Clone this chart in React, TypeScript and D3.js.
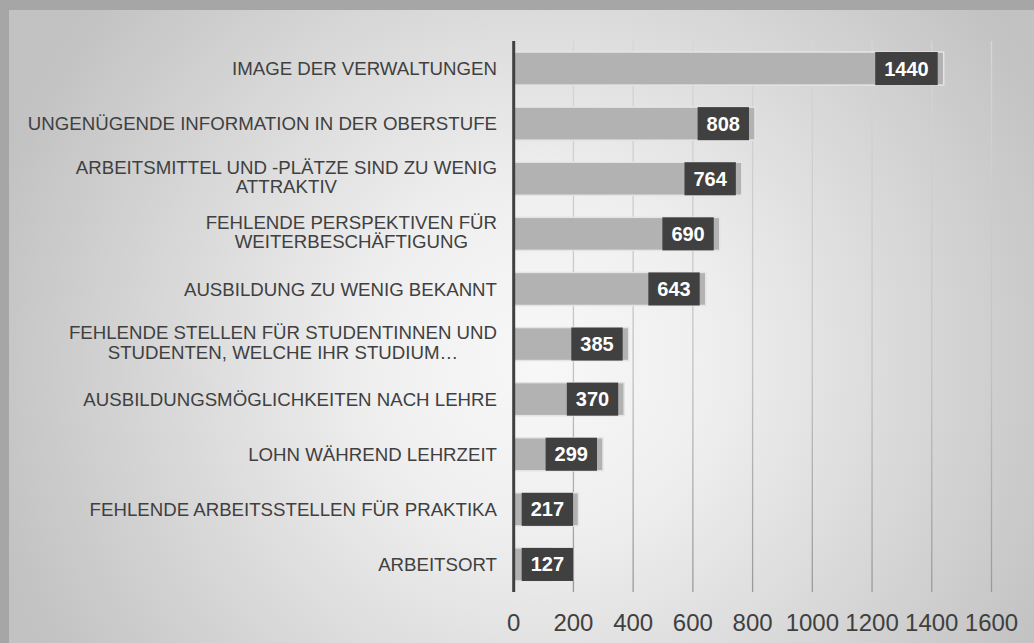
import React, { useEffect, useRef } from "react";
import * as d3 from "d3";

const categories: string[][] = [
  ["IMAGE DER VERWALTUNGEN"],
  ["UNGENÜGENDE INFORMATION IN DER OBERSTUFE"],
  ["ARBEITSMITTEL UND -PLÄTZE SIND ZU WENIG", "ATTRAKTIV"],
  ["FEHLENDE PERSPEKTIVEN FÜR", "WEITERBESCHÄFTIGUNG"],
  ["AUSBILDUNG ZU WENIG BEKANNT"],
  ["FEHLENDE STELLEN FÜR STUDENTINNEN UND", "STUDENTEN, WELCHE IHR STUDIUM…"],
  ["AUSBILDUNGSMÖGLICHKEITEN NACH LEHRE"],
  ["LOHN WÄHREND LEHRZEIT"],
  ["FEHLENDE ARBEITSSTELLEN FÜR PRAKTIKA"],
  ["ARBEITSORT"],
];
const values: number[] = [1440, 808, 764, 690, 643, 385, 370, 299, 217, 127];
const ticks: number[] = [0, 200, 400, 600, 800, 1000, 1200, 1400, 1600];

const W = 1034;
const H = 643;
const FONT = "'Liberation Sans', Arial, sans-serif";

export default function App() {
  const ref = useRef<SVGSVGElement | null>(null);

  useEffect(() => {
    const svg = d3.select(ref.current);
    svg.selectAll("*").remove();

    const defs = svg.append("defs");
    const rg = defs
      .append("radialGradient")
      .attr("id", "bg")
      .attr("gradientUnits", "userSpaceOnUse")
      .attr("cx", 540)
      .attr("cy", 360)
      .attr("r", 570);
    rg.append("stop").attr("offset", "0").attr("stop-color", "#f8f8f8");
    rg.append("stop").attr("offset", "0.3").attr("stop-color", "#efefef");
    rg.append("stop").attr("offset", "1").attr("stop-color", "#c2c2c2");

    const top = 41;
    const bottom = 592;
    const lg = defs
      .append("linearGradient")
      .attr("id", "grid")
      .attr("gradientUnits", "userSpaceOnUse")
      .attr("x1", 0)
      .attr("y1", top)
      .attr("x2", 0)
      .attr("y2", bottom);
    lg.append("stop").attr("offset", "0").attr("stop-color", "#d6d6d6");
    lg.append("stop").attr("offset", "0.6").attr("stop-color", "#c2c2c2");
    lg.append("stop").attr("offset", "1").attr("stop-color", "#9a9a9a");

    svg.append("rect").attr("width", W).attr("height", H).attr("fill", "#a6a6a6");
    svg
      .append("rect")
      .attr("x", 9)
      .attr("y", 10)
      .attr("width", W - 9)
      .attr("height", H - 10)
      .attr("fill", "url(#bg)");

    const x = d3.scaleLinear().domain([0, 1600]).range([513.7, 991.5]);
    const y = d3
      .scaleBand<number>()
      .domain(values.map((_, i) => i))
      .range([top, bottom])
      .paddingInner(0.4)
      .paddingOuter(0.2);

    svg
      .append("g")
      .selectAll("line")
      .data(ticks.slice(1))
      .join("line")
      .attr("x1", (d) => x(d))
      .attr("x2", (d) => x(d))
      .attr("y1", top)
      .attr("y2", bottom)
      .attr("stroke", "url(#grid)")
      .attr("stroke-width", 1.3);

    svg
      .append("g")
      .selectAll("text")
      .data(ticks)
      .join("text")
      .attr("x", (d) => x(d))
      .attr("y", 631)
      .attr("text-anchor", "middle")
      .attr("font-family", FONT)
      .attr("font-size", 24)
      .attr("fill", "#404040")
      .text((d) => String(d));

    const bars = svg.append("g");
    values.forEach((v, i) => {
      const by = y(i)!;
      const bh = y.bandwidth();
      bars
        .append("rect")
        .attr("x", x(0))
        .attr("y", by)
        .attr("width", x(v) - x(0))
        .attr("height", bh)
        .attr("fill", "#b2b2b2")
        .attr("stroke", "#e4e4e4")
        .attr("stroke-width", 1.5);
    });

    const lab = svg.append("g");
    values.forEach((v, i) => {
      const by = y(i)!;
      const bh = y.bandwidth();
      const g = lab.append("g");
      const rect = g.append("rect").attr("fill", "#404040");
      const t = g
        .append("text")
        .attr("font-family", FONT)
        .attr("font-size", 20)
        .attr("font-weight", "bold")
        .attr("fill", "#ffffff")
        .attr("text-anchor", "middle")
        .attr("y", by + bh / 2 + 7)
        .text(String(v));
      const tw = (t.node() as SVGTextElement).getComputedTextLength();
      const bw = tw + 18;
      let right = x(v) - 6;
      let left = right - bw;
      if (left < x(0) + 8) {
        left = x(0) + 8;
        right = left + bw;
      }
      rect.attr("x", left).attr("y", by).attr("width", bw).attr("height", bh);
      t.attr("x", (left + right) / 2);
    });

    svg
      .append("line")
      .attr("x1", x(0))
      .attr("x2", x(0))
      .attr("y1", top)
      .attr("y2", bottom)
      .attr("stroke", "#404040")
      .attr("stroke-width", 3);

    const cl = svg.append("g");
    categories.forEach((lines, i) => {
      const c = y(i)! + y.bandwidth() / 2;
      const t = cl
        .append("text")
        .attr("font-family", FONT)
        .attr("font-size", 18.67)
        .attr("fill", "#404040")
        .attr("text-anchor", "middle");
      const lh = 19.5;
      const n = lines.length;
      const shift = n > 1 ? -2 : 0;
      lines.forEach((ln, k) => {
        t.append("tspan")
          .attr("y", c + 6.7 + shift + (k - (n - 1) / 2) * lh)
          .text(ln);
      });
      let maxW = 0;
      t.selectAll<SVGTSpanElement, unknown>("tspan").each(function () {
        maxW = Math.max(maxW, this.getComputedTextLength());
      });
      t.selectAll("tspan").attr("x", 497 - maxW / 2);
    });
  }, []);

  return (
    <svg
      ref={ref}
      width={W}
      height={H}
      style={{ position: "absolute", left: 0, top: 0, display: "block" }}
    />
  );
}
